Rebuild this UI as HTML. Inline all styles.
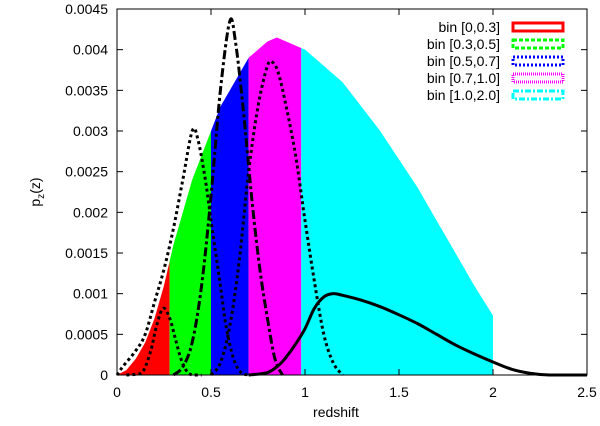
<!DOCTYPE html>
<html><head><meta charset="utf-8"><style>
body{margin:0;background:#fff}
svg{display:block;font-family:"Liberation Sans",sans-serif}
</style></head><body>
<svg id="chart" width="600" height="426" viewBox="0 0 600 426" xmlns="http://www.w3.org/2000/svg">
<g id="fills"></g>
<g id="curves"></g>
<g id="axes"></g>
<text x="336" y="417" font-size="14" text-anchor="middle">redshift</text>
<text transform="translate(40,192) rotate(-90)" font-size="14" text-anchor="middle">p<tspan font-size="10" dy="4">z</tspan><tspan dy="-4">(z)</tspan></text>
<g id="legend"></g>
</svg>
<script>
const envZ = [0,0.05,0.1,0.15,0.2,0.25,0.3,0.35,0.4,0.45,0.5,0.55,0.6,0.65,0.7,0.75,0.8,0.85,0.9,0.95,1.0,1.1,1.2,1.3,1.4,1.5,1.6,1.7,1.8,1.9,2.0];
const envP = [0,0.00006,0.0002,0.0004,0.0007,0.0011,0.0016,0.002,0.0024,0.0027,0.003,0.0033,0.0035,0.0037,0.0039,0.004,0.0041,0.00415,0.0041,0.00405,0.004,0.0038,0.0036,0.0033,0.003,0.00265,0.0023,0.0019,0.0015,0.0011,0.00073];
const binEdges = [0,0.28,0.5,0.7,0.98,2.0];
const binColors = ["#ff0000","#00ff00","#0000ff","#ff00ff","#00ffff"];
const binLabels = ["bin [0,0.3]","bin [0.3,0.5]","bin [0.5,0.7]","bin [0.7,1.0]","bin [1.0,2.0]"];
const cAz = [0.05,0.1,0.14,0.18,0.21,0.245,0.28,0.31,0.34,0.37,0.4,0.45];
const cAp = [0,0.00001,0.00005,0.0003,0.0006,0.00082,0.0007,0.00045,0.0002,0.00005,0,0];
const cBz = [0,0.03,0.1,0.15,0.2,0.25,0.3,0.35,0.4,0.43,0.47,0.5,0.55,0.58,0.62,0.66,0.7];
const cBp = [0,0.0001,0.0003,0.0005,0.0009,0.0013,0.0018,0.0024,0.003,0.0029,0.0024,0.0019,0.0011,0.0006,0.0002,0.00003,0];
const cCz = [0.3,0.35,0.4,0.45,0.5,0.55,0.6,0.63,0.67,0.72,0.76,0.8,0.84,0.88];
const cCp = [0,0.0001,0.0004,0.0011,0.0022,0.0035,0.00435,0.0041,0.0033,0.0021,0.0013,0.0007,0.0002,0];
const cDz = [0.5,0.55,0.6,0.65,0.7,0.75,0.8,0.83,0.86,0.9,0.95,1.0,1.05,1.1,1.15,1.2];
const cDp = [0,0.00015,0.0006,0.0014,0.0025,0.0033,0.0038,0.00384,0.0037,0.0033,0.0027,0.0019,0.00115,0.0005,0.00015,0];
const cEz = [0.7,0.8,0.86,0.9,0.95,1.0,1.05,1.1,1.15,1.2,1.3,1.4,1.5,1.6,1.7,1.8,1.9,2.0,2.1,2.2,2.3,2.5];
const cEp = [0,0.00003,0.00012,0.00022,0.00038,0.00057,0.00082,0.00096,0.001,0.00098,0.00092,0.00084,0.00074,0.00063,0.0005,0.00037,0.00026,0.00016,0.00007,0.00002,0,0];
const xTicks = [0,0.5,1,1.5,2,2.5];
const xTickLabels = ["0","0.5","1","1.5","2","2.5"];
const yTicks = [0,0.0005,0.001,0.0015,0.002,0.0025,0.003,0.0035,0.004,0.0045];
const yTickLabels = ["0","0.0005","0.001","0.0015","0.002","0.0025","0.003","0.0035","0.004","0.0045"];

const L=117,R=587,T=9,B=375;
const X=z=>L+(z-0)/2.5*(R-L);
const Y=p=>B-p/0.0045*(B-T);
const NS="http://www.w3.org/2000/svg";
function mk(tag,parent){const e=document.createElementNS(NS,tag);parent.appendChild(e);return e;}
function envAt(z){for(let i=0;i<envZ.length-1;i++){if(z>=envZ[i]&&z<=envZ[i+1]){const t=(z-envZ[i])/(envZ[i+1]-envZ[i]);return envP[i]+t*(envP[i+1]-envP[i]);}}return 0;}
function smoothPath(pts){
  let d='M'+pts[0][0]+','+pts[0][1];
  for(let i=0;i<pts.length-1;i++){
    const p0=pts[i-1]||pts[i],p1=pts[i],p2=pts[i+1],p3=pts[i+2]||p2;
    let c1y=p1[1]+(p2[1]-p0[1])/6, c2y=p2[1]-(p3[1]-p1[1])/6;
    c1y=Math.min(c1y,B);c2y=Math.min(c2y,B);
    d+=' C'+(p1[0]+(p2[0]-p0[0])/6)+','+c1y+' '+(p2[0]-(p3[0]-p1[0])/6)+','+c2y+' '+p2[0]+','+p2[1];
  }
  return d;
}

const fills=document.getElementById('fills');
for(let b=0;b<binColors.length;b++){
  const a=binEdges[b],c=binEdges[b+1];
  let pts=[[X(a),Y(0)]];
  const zs=[a];envZ.forEach(z=>{if(z>a&&z<c)zs.push(z)});zs.push(c);
  zs.forEach(z=>pts.push([X(z),Y(envAt(z))]));
  pts.push([X(c),Y(0)]);
  const p=mk('polygon',fills);
  
  
  p.setAttribute('points',pts.map(q=>q.join(',')).join(' '));
  p.setAttribute('fill',binColors[b]);
}
const curves=document.getElementById('curves');
function curve(zs,ps,dash,name){
  const p=mk('path',curves);
  
  
  p.setAttribute('d',smoothPath(zs.map((z,i)=>[X(z),Y(ps[i])])));
  p.setAttribute('fill','none');p.setAttribute('stroke','#000');p.setAttribute('stroke-width','3');
  if(dash)p.setAttribute('stroke-dasharray',dash);
}
curve(cAz,cAp,'3,3','photoz-curve-bin1');
curve(cBz,cBp,'3,3','photoz-curve-bin2');
curve(cCz,cCp,'9,3,3,3','photoz-curve-bin3');
curve(cDz,cDp,'3,3','photoz-curve-bin4');
curve(cEz,cEp,null,'photoz-curve-bin5');

const axes=document.getElementById('axes');
const fr=mk('rect',axes);


fr.setAttribute('x',L);fr.setAttribute('y',T);fr.setAttribute('width',R-L);fr.setAttribute('height',B-T);
fr.setAttribute('fill','none');fr.setAttribute('stroke','#000');fr.setAttribute('stroke-width','1');
xTicks.forEach((v,i)=>{
  [[B,B-6],[T,T+6]].forEach(([a,b])=>{const l=mk('line',axes);
    
    
    l.setAttribute('x1',X(v));l.setAttribute('x2',X(v));l.setAttribute('y1',a);l.setAttribute('y2',b);l.setAttribute('stroke','#000');});
  const t=mk('text',axes);
  
  
  t.setAttribute('x',X(v));t.setAttribute('y',B+22);t.setAttribute('font-size','14');t.setAttribute('text-anchor','middle');t.textContent=xTickLabels[i];
});
yTicks.forEach((v,i)=>{
  [[L,L+6],[R,R-6]].forEach(([a,b])=>{const l=mk('line',axes);
    
    
    l.setAttribute('x1',a);l.setAttribute('x2',b);l.setAttribute('y1',Y(v));l.setAttribute('y2',Y(v));l.setAttribute('stroke','#000');});
  const t=mk('text',axes);
  
  
  t.setAttribute('x',L-9);t.setAttribute('y',Y(v)+5);t.setAttribute('font-size','14');t.setAttribute('text-anchor','end');t.textContent=yTickLabels[i];
});
const legend=document.getElementById('legend');
const legDash=[null,'4,2','2,2','1,1','6,2,2,2'];
binLabels.forEach((lab,i)=>{
  const y=27+i*17;
  const t=mk('text',legend);
  
  
  t.setAttribute('x',500);t.setAttribute('y',y+5);t.setAttribute('font-size','14');t.setAttribute('text-anchor','end');t.textContent=lab;
  const r=mk('rect',legend);
  
  
  r.setAttribute('x',513);r.setAttribute('y',y-4);r.setAttribute('width',50);r.setAttribute('height',8);
  r.setAttribute('fill','none');r.setAttribute('stroke',binColors[i]);r.setAttribute('stroke-width','3');
  if(legDash[i])r.setAttribute('stroke-dasharray',legDash[i]);
});
</script>
</body></html>
